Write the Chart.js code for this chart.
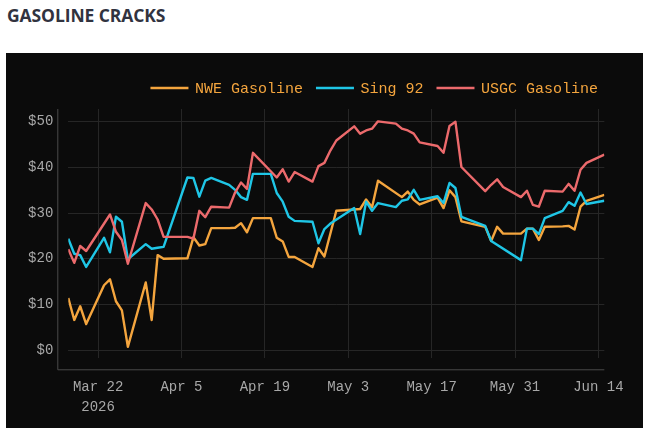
<!DOCTYPE html>
<html>
<head>
<meta charset="utf-8">
<script src="https://cdn.jsdelivr.net/npm/chart.js@4.4.1/dist/chart.umd.min.js"></script>
<style>
  html, body { margin: 0; padding: 0; background: #ffffff; }
  body { width: 653px; height: 436px; position: relative; overflow: hidden; }
  #title {
    position: absolute; left: 7px; top: 3px;
    font-family: "Open Sans", sans-serif; font-weight: 700; font-size: 17.5px;
    letter-spacing: -0.1px; color: #31333f;
  }
  #panel {
    position: absolute; left: 6px; top: 53px; width: 637px; height: 375px;
    background: #0b0b0b;
  }
</style>
</head>
<body>
<div id="title">GASOLINE CRACKS</div>
<div id="panel"><canvas id="cracksChart" width="637" height="375"></canvas></div>
<script>
// Gasoline cracks, $/bbl, 2026.
var nweDates = ['03-17','03-18','03-19','03-20','03-23','03-24','03-25','03-26','03-27','03-30','03-31',
  '04-01','04-02','04-06','04-07','04-08','04-09','04-10','04-13','04-14','04-15','04-16','04-17','04-20',
  '04-21','04-22','04-23','04-24','04-27','04-28','04-29','05-01','05-04','05-05','05-06','05-07','05-08',
  '05-12','05-13','05-14','05-15','05-18','05-19','05-20','05-21','05-22','05-26','05-27','05-28','05-29',
  '06-01','06-02','06-03','06-04','06-05','06-08','06-09','06-10','06-11','06-12','06-15'];
var nweCracks = [11.4, 6.6, 9.6, 5.7, 14.2, 15.5, 10.7, 8.7, 0.7, 14.8, 6.6,
  20.8, 20.0, 20.1, 24.7, 22.9, 23.2, 26.7, 26.7, 26.8, 27.8, 25.8, 28.9, 28.9,
  24.6, 23.8, 20.4, 20.4, 18.2, 22.3, 20.5, 30.5, 30.8, 30.9, 33.0, 31.3, 37.1,
  33.5, 34.7, 32.9, 31.9, 33.4, 31.1, 35.0, 33.5, 28.2, 27.0, 23.9, 27.0, 25.5,
  25.5, 26.6, 26.6, 24.1, 27.0, 27.1, 27.2, 26.4, 31.4, 32.7, 34.0];

var singDates = ['03-17','03-18','03-19','03-20','03-23','03-24','03-25','03-26','03-27','03-30','03-31',
  '04-01','04-02','04-06','04-07','04-08','04-09','04-10','04-13','04-14','04-15','04-16','04-17','04-20',
  '04-21','04-22','04-23','04-24','04-27','04-28','04-29','04-30','05-04','05-05','05-06','05-07','05-08',
  '05-11','05-12','05-13','05-14','05-15','05-18','05-19','05-20','05-21','05-22','05-26','05-27',
  '06-01','06-02','06-03','06-04','06-05','06-08','06-09','06-10','06-11','06-12','06-15'];
var singCracks = [24.4, 21.1, 20.8, 18.2, 24.6, 21.4, 29.2, 28.1, 19.9, 23.2, 22.2,
  22.4, 22.6, 37.8, 37.7, 33.6, 37.1, 37.7, 36.2, 35.1, 33.5, 32.9, 38.6, 38.6,
  34.4, 32.5, 29.2, 28.3, 28.1, 23.4, 26.5, 27.7, 31.1, 25.4, 32.5, 30.5, 32.2,
  31.3, 32.7, 33.0, 35.1, 32.9, 33.7, 32.2, 36.6, 35.5, 29.2, 27.2, 23.9,
  19.7, 26.6, 26.6, 25.4, 28.9, 30.5, 32.4, 31.6, 34.5, 32.0, 32.7];

var usgcDates = ['03-17','03-18','03-19','03-20','03-24','03-25','03-26','03-27','03-30','03-31',
  '04-01','04-02','04-06','04-07','04-08','04-09','04-10','04-13','04-14','04-15','04-16','04-17',
  '04-21','04-22','04-23','04-24','04-27','04-28','04-29','04-30','05-01','05-04','05-05','05-06','05-07','05-08',
  '05-11','05-12','05-13','05-14','05-15','05-18','05-19','05-20','05-21','05-22','05-26','05-27','05-28','05-29',
  '06-01','06-02','06-03','06-04','06-05','06-08','06-09','06-10','06-11','06-12','06-15'];
var usgcCracks = [22.1, 19.1, 22.8, 21.7, 29.7, 25.9, 24.1, 18.9, 32.2, 30.8,
  28.6, 24.8, 24.8, 24.4, 30.5, 29.1, 31.4, 31.2, 34.5, 36.7, 35.3, 43.2,
  37.8, 39.6, 36.9, 39.0, 36.9, 40.3, 41.0, 43.7, 45.9, 49.0, 47.4, 48.1, 48.5, 50.1,
  49.6, 48.5, 48.1, 47.4, 45.5, 44.7, 43.2, 49.1, 50.0, 40.1, 34.8, 36.2, 37.4, 35.7,
  33.5, 34.9, 31.8, 31.4, 34.9, 34.7, 36.4, 34.9, 39.5, 41.0, 42.8];

var seriesNames = ['NWE Gasoline', 'Sing 92', 'USGC Gasoline'];
var seriesColors = ['#f4a53e', '#1fc6e6', '#ec6a6c'];

var xTickDates = ['03-22', '04-05', '04-19', '05-03', '05-17', '05-31', '06-14'];
var xTickLabels = [['Mar 22', '2026'], 'Apr 5', 'Apr 19', 'May 3', 'May 17', 'May 31', 'Jun 14'];
var yTicks = [0, 10, 20, 30, 40, 50];
var xRange = ['03-17', '06-15'];
var yRange = [-1.8, 52.8];

var YEAR = 2026;
var tickFont = { family: '"Liberation Mono", "Courier New", monospace', size: 14, lineHeight: 1.45 };
var legendFont = '15px "Liberation Mono", "Courier New", monospace';

// Days since Mar 22, so the x scale is linear in calendar days.
function dayNum(md) {
  var p = md.split('-');
  return (Date.UTC(YEAR, +p[0] - 1, +p[1]) - Date.UTC(YEAR, 2, 22)) / 86400000;
}

function toPoints(dates, values) {
  return dates.map(function (d, i) { return { x: dayNum(d), y: values[i] }; });
}

// Plotly-like detached axis lines.
var axisLinesPlugin = {
  id: 'axisLines',
  afterDraw: function (chart) {
    var a = chart.chartArea, ctx = chart.ctx;
    ctx.save();
    ctx.strokeStyle = '#4a4a4a';
    ctx.lineWidth = 1;
    ctx.beginPath();
    ctx.moveTo(a.left - 10.5, a.top);
    ctx.lineTo(a.left - 10.5, a.bottom + 11.5);
    ctx.lineTo(a.right, a.bottom + 11.5);
    ctx.stroke();
    ctx.restore();
  }
};

// Legend across the top, right aligned.
var lineLegendPlugin = {
  id: 'lineLegend',
  afterDraw: function (chart) {
    var ctx = chart.ctx;
    var lineLen = 38, gap = 6.5, itemGap = 13, yMid = 35;
    ctx.save();
    ctx.font = legendFont;
    ctx.textBaseline = 'middle';
    var sets = chart.data.datasets;
    var widths = sets.map(function (ds) { return ctx.measureText(ds.label).width; });
    var total = 0;
    widths.forEach(function (w, i) { total += lineLen + gap + w + (i ? itemGap : 0); });
    var x = 592 - total;
    sets.forEach(function (ds, i) {
      ctx.strokeStyle = ds.borderColor;
      ctx.lineWidth = 2.5;
      ctx.beginPath();
      ctx.moveTo(x, yMid);
      ctx.lineTo(x + lineLen, yMid);
      ctx.stroke();
      ctx.fillStyle = seriesColors[0];
      ctx.fillText(ds.label, x + lineLen + gap, yMid + 1);
      x += lineLen + gap + widths[i] + itemGap;
    });
    ctx.restore();
  }
};

var ctx = document.getElementById('cracksChart');

var cracksChart = new Chart(ctx, {
  type: 'line',
  data: {
    datasets: [
      { label: seriesNames[0], data: toPoints(nweDates, nweCracks), borderColor: seriesColors[0], order: 3 },
      { label: seriesNames[1], data: toPoints(singDates, singCracks), borderColor: seriesColors[1], order: 2 },
      { label: seriesNames[2], data: toPoints(usgcDates, usgcCracks), borderColor: seriesColors[2], order: 1 }
    ]
  },
  options: {
    responsive: false,
    animation: false,
    layout: { padding: { top: 56, right: 37, left: 0, bottom: 0 } },
    elements: {
      line: { borderWidth: 2.4, tension: 0, fill: false, borderJoinStyle: 'round' },
      point: { radius: 0, hoverRadius: 0 }
    },
    plugins: {
      legend: { display: false },
      tooltip: { enabled: false }
    },
    scales: {
      x: {
        type: 'linear',
        min: dayNum(xRange[0]),
        max: dayNum(xRange[1]),
        afterBuildTicks: function (scale) {
          scale.ticks = xTickDates.map(function (d) { return { value: dayNum(d) }; });
        },
        afterFit: function (scale) { scale.height = 69.7; },
        grid: { color: '#262626', lineWidth: 1, drawTicks: false },
        border: { display: false },
        ticks: {
          autoSkip: false,
          maxRotation: 0,
          padding: 19,
          color: '#a8a8a8',
          font: tickFont,
          callback: function (value, index) { return xTickLabels[index]; }
        }
      },
      y: {
        min: yRange[0],
        max: yRange[1],
        afterBuildTicks: function (scale) {
          scale.ticks = yTicks.map(function (v) { return { value: v }; });
        },
        afterFit: function (scale) { scale.width = 62.3; },
        grid: { color: '#262626', lineWidth: 1, drawTicks: false },
        border: { display: false },
        ticks: {
          padding: 15,
          color: '#a8a8a8',
          font: { family: tickFont.family, size: 14 },
          callback: function (value) { return '$' + value; }
        }
      }
    }
  },
  plugins: [axisLinesPlugin, lineLegendPlugin]
});
</script>
</body>
</html>
